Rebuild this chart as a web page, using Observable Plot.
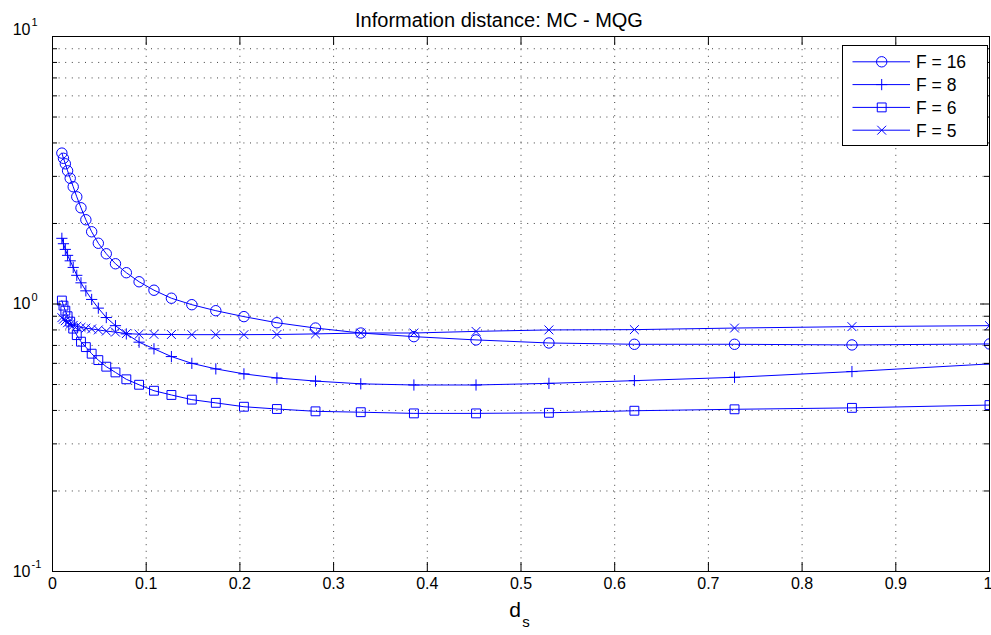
<!DOCTYPE html>
<html><head><meta charset="utf-8">
<script src="https://cdn.jsdelivr.net/npm/d3@7"></script>
<script src="https://cdn.jsdelivr.net/npm/@observablehq/plot@0.6"></script>
<style>
body{margin:0;background:#fff;font-family:"Liberation Sans",Arial,sans-serif;}
#wrap{position:relative;width:991px;height:635px;}
#legend{position:absolute;left:842px;top:45px;}
</style></head><body><div id="wrap"></div>
<script>
// x positions of the samples (same for all series)
const ds = [0.0100,0.0117,0.0137,0.0161,0.0189,0.0221,0.0259,0.0304,0.0356,0.0418,
            0.0489,0.0574,0.0672,0.0788,0.0924,0.1083,0.1269,0.1487,0.1743,0.2043,
            0.2395,0.2807,0.3290,0.3857,0.4520,0.5298,0.6210,0.7279,0.8532,1.0000];
const f16 = [3.665,3.505,3.343,3.147,2.951,2.744,2.516,2.289,2.065,1.862,
             1.687,1.541,1.414,1.309,1.211,1.126,1.051,0.994,0.944,0.897,
             0.851,0.813,0.779,0.755,0.734,0.715,0.707,0.707,0.703,0.709];
const f8  = [1.76,1.68,1.60,1.52,1.45,1.37,1.28,1.20,1.12,1.04,
             0.965,0.89,0.83,0.773,0.72,0.68,0.636,0.600,0.572,0.548,
             0.529,0.515,0.503,0.498,0.498,0.505,0.517,0.532,0.559,0.597];
const f6  = [1.03,0.986,0.944,0.900,0.859,0.809,0.765,0.723,0.690,0.652,
             0.617,0.583,0.555,0.523,0.499,0.474,0.457,0.439,0.427,0.413,
             0.405,0.397,0.394,0.390,0.390,0.392,0.399,0.404,0.409,0.419];
const f5  = [0.889,0.877,0.866,0.851,0.840,0.832,0.825,0.818,0.812,0.807,
             0.800,0.792,0.785,0.775,0.771,0.770,0.769,0.768,0.768,0.768,
             0.769,0.773,0.779,0.779,0.790,0.800,0.802,0.813,0.823,0.830];
const seriesNames = ["F = 16","F = 8","F = 6","F = 5"];
const seriesSymbols = ["circle","plus","square","times"];
const seriesR = [5.2, 3.7, 5.0, 4.1];
const xTicks = [0,0.1,0.2,0.3,0.4,0.5,0.6,0.7,0.8,0.9,1];
const xTickLabels = ["0","0.1","0.2","0.3","0.4","0.5","0.6","0.7","0.8","0.9","1"];
const yMajor = [0.1,1,10];
const yExp = ["-1","0","1"];
const yMinor = [0.2,0.3,0.4,0.5,0.6,0.7,0.8,0.9,2,3,4,5,6,7,8,9];
const titleText = "Information distance: MC - MQG";
const xLabelMain = "d";
const xLabelSub = "s";

const W = 991, H = 635, mL = 52, mR = 2, mT = 36, mB = 64;
const PW = W - mL - mR, PH = H - mT - mB;
const blue = "#0000ff";
const gridStyle = {stroke: "#000", strokeOpacity: 0.75, strokeWidth: 1, strokeDasharray: "1,5.6"};

const allSeries = [f16, f8, f6, f5];
const data = [];
allSeries.forEach((vals, k) => vals.forEach((v, i) => data.push({x: ds[i], y: v, s: seriesNames[k], k})));

const dotMarks = seriesNames.map((name, k) =>
  Plot.dot(data.filter(d => d.k === k), {x: "x", y: "y", symbol: () => seriesSymbols[k], r: seriesR[k],
    stroke: blue, fill: "none", strokeWidth: 1, clip: true}));

const xLab = xTicks.map((t, i) => ({t, label: xTickLabels[i]}));
const yLab = yMajor.map((v, i) => ({v, e: yExp[i]}));
const lblFont = {fill: "#000", fontSize: 16};

const chart = Plot.plot({
  width: W, height: H,
  marginLeft: mL, marginRight: mR, marginTop: mT, marginBottom: mB,
  style: {fontFamily: "'Liberation Sans', Arial, sans-serif", fontSize: "16px", color: "#000", background: "#fff"},
  x: {domain: [0, 1], axis: null},
  y: {type: "log", domain: [0.1, 10], axis: null},
  symbol: {type: "identity"},
  marks: [
    Plot.ruleX(xTicks.slice(1, -1), gridStyle),
    Plot.ruleY(yMinor.concat([1]), gridStyle),
    Plot.line(data, {x: "x", y: "y", z: "s", stroke: blue, strokeWidth: 1, clip: true}),
    ...dotMarks,
    Plot.tickX(xTicks, {stroke: "#000", insetTop: PH - 9}),
    Plot.tickX(xTicks, {stroke: "#000", insetBottom: PH - 9}),
    Plot.tickY(yMajor, {stroke: "#000", insetRight: PW - 9}),
    Plot.tickY(yMajor, {stroke: "#000", insetLeft: PW - 9}),
    Plot.tickY(yMinor, {stroke: "#000", insetRight: PW - 5}),
    Plot.tickY(yMinor, {stroke: "#000", insetLeft: PW - 5}),
    Plot.frame({stroke: "#000", strokeWidth: 1}),
    // x tick labels
    Plot.text(xLab.slice(0, -1), {x: "t", text: "label", frameAnchor: "bottom", dy: 17, ...lblFont}),
    Plot.text(xLab.slice(-1), {x: "t", text: "label", frameAnchor: "bottom", textAnchor: "end", dx: 3, dy: 17, ...lblFont}),
    // y tick labels 10^k
    Plot.text(yLab.filter(d => d.v < 10), {y: "v", text: () => "10", frameAnchor: "left", textAnchor: "end", dx: -22, ...lblFont}),
    Plot.text(yLab.filter(d => d.v < 10), {y: "v", text: "e", frameAnchor: "left", textAnchor: "start", dx: -21, dy: -7, fill: "#000", fontSize: 11}),
    Plot.text(yLab.filter(d => d.v >= 10), {y: "v", text: () => "10", frameAnchor: "left", textAnchor: "end", dx: -22, dy: -7, ...lblFont}),
    Plot.text(yLab.filter(d => d.v >= 10), {y: "v", text: "e", frameAnchor: "left", textAnchor: "start", dx: -21, dy: -14, fill: "#000", fontSize: 11}),
    Plot.text([titleText], {text: d => d, frameAnchor: "top", dx: -22, dy: -24, fontSize: 20, fill: "#000"}),
    Plot.text([xLabelMain], {text: d => d, frameAnchor: "bottom", dx: -6, dy: 45, fontSize: 21, fill: "#000"}),
    Plot.text([xLabelSub], {text: d => d, frameAnchor: "bottom", dx: 5, dy: 55, fontSize: 15, fill: "#000"})
  ]
});
document.getElementById("wrap").appendChild(chart);

// legend overlay
const LW = 146, LH = 101;
const leg = d3.select("#wrap").append("svg").attr("id", "legend").attr("width", LW).attr("height", LH);
leg.append("rect").attr("x", 0.5).attr("y", 0.5).attr("width", LW - 1).attr("height", LH - 1)
  .attr("fill", "#fff").attr("stroke", "#000").attr("stroke-width", 1);
const symMap = {circle: d3.symbolCircle, plus: d3.symbolPlus, square: d3.symbolSquare, times: d3.symbolTimes};
seriesNames.forEach((name, k) => {
  const cy = 16.8 + k * 22.8;
  const g = leg.append("g");
  g.append("line").attr("x1", 10.5).attr("x2", 68).attr("y1", cy).attr("y2", cy).attr("stroke", blue).attr("stroke-width", 1);
  g.append("path").attr("transform", `translate(39.7,${cy})`)
    .attr("d", d3.symbol(symMap[seriesSymbols[k]], Math.PI * seriesR[k] * seriesR[k])())
    .attr("fill", "none").attr("stroke", blue).attr("stroke-width", 1);
  g.append("text").attr("x", 74).attr("y", cy).attr("dy", "0.36em")
    .attr("font-size", 17.5).attr("font-family", "'Liberation Sans', Arial, sans-serif").attr("fill", "#000").text(name);
});
</script></body></html>
